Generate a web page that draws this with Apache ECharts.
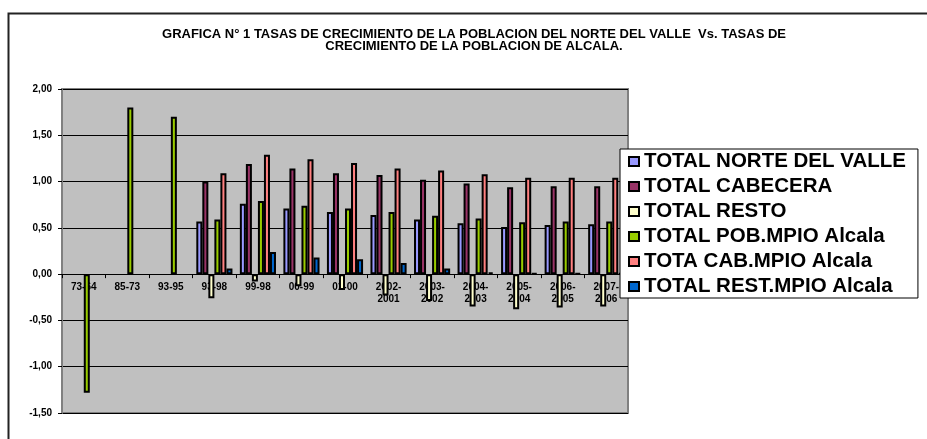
<!DOCTYPE html>
<html>
<head>
<meta charset="utf-8">
<script src="https://cdn.jsdelivr.net/npm/echarts@6.0.0/dist/echarts.min.js"></script>
<style>
  html, body { margin: 0; padding: 0; background: #fff; }
  #chart { width: 927px; height: 439px; }
</style>
</head>
<body>
<div id="chart"></div>
<script>
// periodos (eje x)
const categories = ['73-64', '85-73', '93-95', '93-98', '99-98', '00-99', '01-00',
  '2002-\n2001', '2003-\n2002', '2004-\n2003', '2005-\n2004', '2006-\n2005', '2007-\n2006']

// tasas de crecimiento por serie
const norteValle = [null, null, null, 0.57, 0.76, 0.71, 0.67, 0.64, 0.59, 0.55, 0.51, 0.53, 0.54]
const cabecera = [null, null, null, 1.00, 1.19, 1.14, 1.09, 1.07, 1.02, 0.98, 0.94, 0.95, 0.95]
const resto = [null, null, null, -0.26, -0.08, -0.13, -0.17, -0.23, -0.29, -0.35, -0.38, -0.36, -0.35]
const pobMpio = [-1.28, 1.80, 1.70, 0.59, 0.79, 0.74, 0.71, 0.67, 0.63, 0.60, 0.56, 0.57, 0.57]
const cabMpio = [null, null, null, 1.09, 1.29, 1.24, 1.20, 1.14, 1.12, 1.08, 1.04, 1.04, 1.04]
const restMpio = [null, null, null, 0.06, 0.24, 0.18, 0.16, 0.12, 0.06, 0.02, 0.01, 0.01, 0.01]

const seriesNames = ['TOTAL NORTE DEL VALLE', 'TOTAL CABECERA', 'TOTAL RESTO',
  'TOTAL POB.MPIO Alcala', 'TOTA CAB.MPIO Alcala', 'TOTAL REST.MPIO Alcala']
const seriesColors = ['#9999FF', '#993366', '#FFFFCC', '#99CC00', '#FF8080', '#0066CC']

// eje y
const yMin = -1.5
const yMax = 2
const yStep = 0.5

const font = 'Liberation Sans, Arial, sans-serif'
const allValues = [norteValle, cabecera, resto, pobMpio, cabMpio, restMpio]

const gridTop = 89
const gridHeight = 324
// el eje de categorias va sobre la linea del cero
const zeroOffset = -((0 - yMin) / (yMax - yMin)) * gridHeight

const myChart = echarts.init(document.getElementById('chart'), null, { renderer: 'canvas' })

const option = {
  backgroundColor: '#ffffff',
  animation: false,
  title: {
    text: 'GRAFICA N° 1 TASAS DE CRECIMIENTO DE LA POBLACION DEL NORTE DEL VALLE  Vs. TASAS DE\nCRECIMIENTO DE LA POBLACION DE ALCALA.',
    left: 474,
    top: 28,
    padding: 0,
    textAlign: 'center',
    textStyle: {
      fontFamily: font,
      fontWeight: 'bold',
      fontSize: 13,
      lineHeight: 12.5,
      color: '#000',
    },
  },
  // marco exterior del grafico
  graphic: [
    {
      type: 'rect',
      left: 6,
      top: 11,
      shape: { width: 1000, height: 500 },
      style: { fill: 'none', stroke: '#222', lineWidth: 2 },
      z: 0,
    },
  ],
  legend: {
    orient: 'vertical',
    left: 620,
    top: 149,
    padding: [2, 12, 1, 8],
    backgroundColor: '#ffffff',
    borderColor: '#000',
    borderWidth: 1,
    itemWidth: 10,
    itemHeight: 9,
    itemGap: 4,
    icon: 'rect',
    textStyle: {
      fontFamily: font,
      fontWeight: 'bold',
      fontSize: 20.5,
      lineHeight: 19,
      color: '#000',
    },
    data: seriesNames,
  },
  grid: {
    left: 62,
    top: gridTop,
    width: 566,
    height: gridHeight,
    show: true,
    backgroundColor: '#C0C0C0',
    borderColor: '#808080',
    borderWidth: 2,
  },
  xAxis: {
    type: 'category',
    data: categories,
    offset: zeroOffset,
    axisLine: { onZero: false, lineStyle: { color: '#000', width: 1 } },
    axisTick: { show: true, interval: 0, length: 4, lineStyle: { color: '#000' } },
    axisLabel: {
      interval: 0,
      margin: 7,
      fontFamily: font,
      fontWeight: 'bold',
      fontSize: 10,
      lineHeight: 12,
      color: '#000',
    },
  },
  yAxis: {
    type: 'value',
    min: yMin,
    max: yMax,
    interval: yStep,
    axisLine: { show: true, lineStyle: { color: '#808080', width: 2 } },
    axisTick: { show: true, length: 4, lineStyle: { color: '#000' } },
    splitLine: { show: true, lineStyle: { color: '#000', width: 1 } },
    axisLabel: {
      margin: 10,
      fontFamily: font,
      fontWeight: 'bold',
      fontSize: 10,
      color: '#000',
      formatter: (v) => v.toFixed(2).replace('.', ','),
    },
  },
  series: seriesNames.map((name, i) => ({
    name: name,
    type: 'bar',
    data: allValues[i],
    barGap: '0%',
    barCategoryGap: '17%',
    itemStyle: {
      color: seriesColors[i],
      borderColor: '#000',
      borderWidth: 2,
    },
  })),
}

myChart.setOption(option)
</script>
</body>
</html>
